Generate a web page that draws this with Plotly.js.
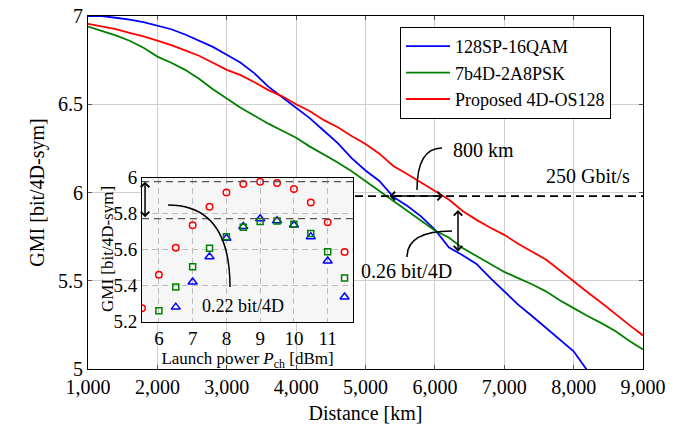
<!DOCTYPE html>
<html><head><meta charset="utf-8">
<script src="https://cdn.plot.ly/plotly-3.0.1.min.js"></script>
<style>html,body{margin:0;padding:0;background:#fff}</style>
</head><body><div id="chart" style="width:684px;height:431px"></div>
<script>
// ---- main chart data ----
const distanceKm = [1000,1200,1400,1600,1800,2000,2200,2400,2600,2800,3000,3200,3400,3600,3800,4000,4200,4400,4600,4800,5000,5200,5400,5600,5800,6000,6200,6400,6600,6800,7000,7200,7400,7600,7800,8000,8200,8400,8600,8800,9000];
const gmi128SP16QAM = [7.00,7.00,6.99,6.98,6.965,6.945,6.925,6.895,6.86,6.825,6.78,6.735,6.675,6.60,6.54,6.48,6.42,6.35,6.28,6.195,6.125,6.065,5.975,5.925,5.865,5.79,5.69,5.645,5.595,5.515,5.44,5.365,5.30,5.235,5.17,5.10,4.99,4.90,null,null,null];
const gmi7b4D2A8PSK = [6.94,6.915,6.89,6.86,6.82,6.77,6.735,6.695,6.645,6.585,6.53,6.48,6.435,6.39,6.35,6.31,6.26,6.215,6.17,6.12,6.065,6.01,5.95,5.895,5.845,5.785,5.745,5.685,5.64,5.595,5.55,5.515,5.48,5.44,5.39,5.345,5.30,5.26,5.215,5.16,5.11];
const gmiProposed = [6.955,6.94,6.925,6.905,6.885,6.86,6.835,6.805,6.775,6.735,6.695,6.665,6.625,6.58,6.545,6.50,6.46,6.41,6.37,6.32,6.275,6.22,6.15,6.105,6.055,6.01,5.96,5.895,5.845,5.80,5.76,5.71,5.665,5.62,5.56,5.495,5.435,5.375,5.31,5.25,5.19];
const seriesNames = ['128SP-16QAM','7b4D-2A8PSK','Proposed 4D-OS128'];
const threshold250G = 5.98;

// ---- inset data ----
const launchPowerDbm = [5.5,6,6.5,7,7.5,8,8.5,9,9.5,10,10.5,11,11.5];
const insetProposed = [5.274,5.46,5.61,5.735,5.838,5.918,5.965,5.978,5.97,5.937,5.862,5.752,5.586];
const inset7b4D = [null,5.26,5.392,5.504,5.607,5.672,5.724,5.756,5.759,5.741,5.69,5.588,5.442];
const inset128SP = [null,null,5.28,5.42,5.56,5.663,5.728,5.772,5.761,5.737,5.672,5.537,5.336];

const FONT = '"Liberation Serif", "Times New Roman", Times, serif';
const BLUE = '#0000ff', GREEN = '#008000', RED = '#ff0000';

// pixel -> main data / paper helpers (for annotation geometry only)
const L = 88, R = 643, T = 16, B = 369;
const X = px => 1000 + (px - L) / (R - L) * 8000;
const Y = py => 7 - (py - T) / (B - T) * 2;
const PX = px => (px - L) / (R - L);
const PY = py => (B - py) / (B - T);

const traces = [
  {x: distanceKm, y: gmi128SP16QAM, name: seriesNames[0], mode: 'lines', line: {color: BLUE, width: 1.8}, xaxis: 'x', yaxis: 'y'},
  {x: distanceKm, y: gmi7b4D2A8PSK, name: seriesNames[1], mode: 'lines', line: {color: GREEN, width: 1.8}, xaxis: 'x', yaxis: 'y'},
  {x: distanceKm, y: gmiProposed, name: seriesNames[2], mode: 'lines', line: {color: RED, width: 1.8}, xaxis: 'x', yaxis: 'y'},
  {x: launchPowerDbm, y: inset128SP, mode: 'markers', showlegend: false, xaxis: 'x2', yaxis: 'y2', cliponaxis: true,
   marker: {symbol: 'triangle-up-open', size: 8, color: BLUE, line: {width: 1.5, color: BLUE}}},
  {x: launchPowerDbm, y: inset7b4D, mode: 'markers', showlegend: false, xaxis: 'x2', yaxis: 'y2', cliponaxis: true,
   marker: {symbol: 'square-open', size: 6, color: GREEN, line: {width: 1.5, color: GREEN}}},
  {x: launchPowerDbm, y: insetProposed, mode: 'markers', showlegend: false, xaxis: 'x2', yaxis: 'y2', cliponaxis: true,
   marker: {symbol: 'circle-open', size: 6.5, color: RED, line: {width: 1.5, color: RED}}}
];

const redMax = Math.max(...insetProposed);
const blueMax = Math.max(...inset128SP.filter(v => v !== null));

const arrowCommon = {text: '', showarrow: true, arrowside: 'end+start', arrowhead: 4, startarrowhead: 4,
  arrowsize: 1.1, startarrowsize: 1.1, arrowwidth: 1.5, arrowcolor: '#000', standoff: 0, startstandoff: 0};

const layout = {
  width: 684, height: 431,
  margin: {l: L, r: 684 - R, t: T, b: 431 - B, pad: 0},
  paper_bgcolor: '#ffffff',
  plot_bgcolor: '#f6f6f6',
  font: {family: FONT, size: 20, color: '#000'},
  showlegend: true,
  legend: {x: PX(400), y: PY(27), xanchor: 'left', yanchor: 'top', bgcolor: '#fff', bordercolor: '#000', borderwidth: 1,
    font: {family: FONT, size: 18}, tracegroupgap: 0, itemwidth: 44},
  xaxis: {range: [1000, 9000], domain: [0, 1], tickvals: [1000,2000,3000,4000,5000,6000,7000,8000,9000], tickformat: ',d',
    showgrid: true, gridcolor: '#d0d0d0', gridwidth: 1, zeroline: false,
    showline: true, linecolor: '#000', linewidth: 1, mirror: 'ticks', ticks: 'inside', ticklen: 4, tickcolor: '#555',
    tickfont: {family: FONT, size: 20}, title: {text: 'Distance [km]', font: {family: FONT, size: 20}, standoff: 8}},
  yaxis: {range: [5, 7], domain: [0, 1], tickvals: [5, 5.5, 6, 6.5, 7],
    showgrid: true, gridcolor: '#d0d0d0', gridwidth: 1, zeroline: false,
    showline: true, linecolor: '#000', linewidth: 1, mirror: 'ticks', ticks: 'inside', ticklen: 4, tickcolor: '#555',
    tickfont: {family: FONT, size: 20}, title: {text: 'GMI [bit/4D-sym]', font: {family: FONT, size: 20}, standoff: 8}},
  xaxis2: {range: [5.5, 11.75], domain: [PX(142), PX(353)], anchor: 'y2',
    tickvals: [6, 7, 8, 9, 10, 11], showgrid: true, gridcolor: '#bdbdbd', griddash: '6px,4px', zeroline: false,
    showline: true, linecolor: '#000', linewidth: 1, mirror: true, ticks: '',
    tickfont: {family: FONT, size: 19}, title: {text: 'Launch power <i>P</i><sub>ch</sub> [dBm]', font: {family: FONT, size: 17}, standoff: 2}},
  yaxis2: {range: [5.2, 6.0], domain: [PY(321.5), PY(177.7)], anchor: 'x2',
    tickvals: [5.2, 5.4, 5.6, 5.8, 6.0], showgrid: true, gridcolor: '#bdbdbd', griddash: '6px,4px', zeroline: false,
    showline: true, linecolor: '#000', linewidth: 1, mirror: true, ticks: '',
    tickfont: {family: FONT, size: 19}},
  shapes: [
    // white background for main plot (inset keeps the grey plot background)
    {type: 'rect', xref: 'paper', yref: 'paper', x0: 0, x1: 1, y0: 0, y1: 1, fillcolor: '#fff', line: {width: 0}, layer: 'below'},
    // 250 Gbit/s threshold
    {type: 'line', xref: 'x', yref: 'y', x0: X(355), x1: 9000, y0: threshold250G, y1: threshold250G,
     line: {color: '#000', width: 1.8, dash: '8px,5px'}, layer: 'above'},
    // inset reference lines
    {type: 'line', xref: 'x2', yref: 'y2', x0: 5.5, x1: 11.75, y0: redMax, y1: redMax, line: {color: '#555', width: 1.2, dash: '7px,5px'}, layer: 'above'},
    {type: 'line', xref: 'x2', yref: 'y2', x0: 5.5, x1: 11.75, y0: blueMax, y1: blueMax, line: {color: '#555', width: 1.2, dash: '7px,5px'}, layer: 'above'},
    // callout curves
    {type: 'path', xref: 'x', yref: 'y', layer: 'above', line: {color: '#000', width: 1.5},
     path: `M ${X(442)},${Y(148)} Q ${X(417)},${Y(148)} ${X(417)},${Y(190)}`},
    {type: 'path', xref: 'x', yref: 'y', layer: 'above', line: {color: '#000', width: 1.5},
     path: `M ${X(452)},${Y(231)} Q ${X(407)},${Y(231)} ${X(407)},${Y(257)}`},
    {type: 'path', xref: 'x', yref: 'y', layer: 'above', line: {color: '#000', width: 1.5},
     path: `M ${X(168)},${Y(205)} Q ${X(230)},${Y(205)} ${X(230)},${Y(287)}`}
  ],
  annotations: [
    Object.assign({xref: 'x', yref: 'y', axref: 'x', ayref: 'y', x: X(443), y: threshold250G, ax: X(388), ay: threshold250G}, arrowCommon),
    Object.assign({xref: 'x', yref: 'y', axref: 'x', ayref: 'y', x: X(458), y: Y(210), ax: X(458), ay: Y(253)}, arrowCommon),
    Object.assign({xref: 'x2', yref: 'y2', axref: 'x2', ayref: 'y2', x: 5.59, y: redMax, ax: 5.59, ay: blueMax}, arrowCommon),
    {xref: 'x', yref: 'y', x: X(483), y: Y(150), text: '800 km', showarrow: false, font: {family: FONT, size: 20}},
    {xref: 'x', yref: 'y', x: X(588), y: Y(176), text: '250 Gbit/s', showarrow: false, font: {family: FONT, size: 20}},
    {xref: 'x', yref: 'y', x: X(406), y: Y(271), text: '0.26 bit/4D', showarrow: false, font: {family: FONT, size: 20}},
    {xref: 'x', yref: 'y', x: X(243), y: Y(306), text: '0.22 bit/4D', showarrow: false, font: {family: FONT, size: 18}},
    // inset y-axis title (sits over the main axis line, as in the reference)
    {xref: 'paper', yref: 'paper', x: PX(96), y: PY(249.5), text: 'GMI [bit/4D-sym]', textangle: -90, showarrow: false,
     bgcolor: 'rgba(0,0,0,0)', font: {family: FONT, size: 17}}
  ]
};

Plotly.newPlot('chart', traces, layout, {displayModeBar: false, staticPlot: true});
</script></body></html>
